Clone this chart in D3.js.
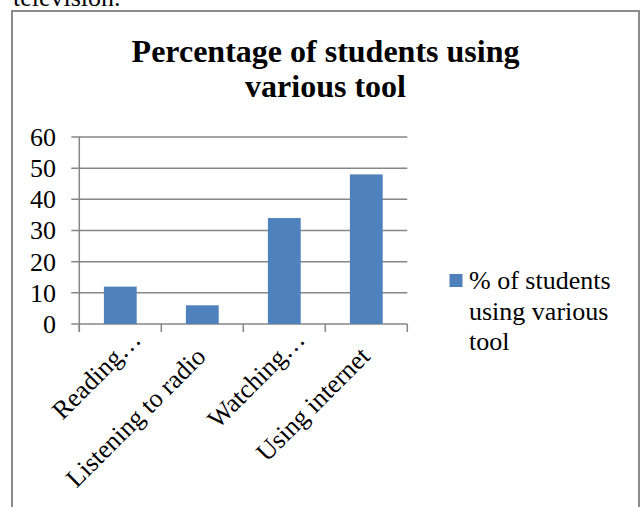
<!DOCTYPE html>
<html>
<head>
<meta charset="utf-8">
<script src="https://cdnjs.cloudflare.com/ajax/libs/d3/7.8.5/d3.min.js"></script>
<style>
  body { margin: 0; background: #fff; }
  svg { display: block; font-family: "Liberation Serif", "Times New Roman", serif; }
</style>
</head>
<body>
<svg id="chart" width="640" height="507"></svg>
<script>
// chart data
var categories = ["Reading\u2026", "Listening to radio", "Watching\u2026", "Using internet"];
var truncated = [true, false, true, false];
var values = [12, 6, 34, 48];
var yTicks = [0, 10, 20, 30, 40, 50, 60];
var titleLines = ["Percentage of students using", "various tool"];
var legendLines = ["% of students", "using various", "tool"];

var barColor = "#4F81BD";
var gridColor = "#868686";

var svg = d3.select("#chart");

// text from the page above the chart (cut at the top)
svg.append("text")
  .attr("x", 13)
  .attr("y", 6)
  .style("font-size", "26px")
  .text("television.");

// chart frame
svg.append("rect")
  .attr("x", 12)
  .attr("y", 11)
  .attr("width", 627)
  .attr("height", 520)
  .attr("fill", "#fff")
  .attr("stroke", "#8c8c8c")
  .attr("stroke-width", 2);

// title
svg.append("text")
  .attr("text-anchor", "middle")
  .style("font-size", "32px")
  .style("font-weight", "bold")
  .selectAll("tspan")
  .data(titleLines)
  .enter().append("tspan")
    .attr("x", 325.5)
    .attr("y", function (d, i) { return 62 + i * 35; })
    .text(function (d) { return d; });

/*
  SCALES
*/
var plot = { left: 79.3, right: 407.3, top: 137, bottom: 324 };

var x = d3.scaleBand()
  .domain(categories)
  .range([plot.left, plot.right])
  .padding(0);

var y = d3.scaleLinear()
  .domain([0, 60])
  .range([plot.bottom, plot.top]);

// gridlines + left tick marks
svg.append("g")
  .selectAll("line")
  .data(yTicks)
  .enter().append("line")
    .attr("x1", plot.left - 8)
    .attr("x2", plot.right)
    .attr("y1", function (d) { return y(d); })
    .attr("y2", function (d) { return y(d); })
    .attr("stroke", gridColor)
    .attr("stroke-width", 1.5);

// y tick labels
svg.append("g")
  .selectAll("text")
  .data(yTicks)
  .enter().append("text")
    .attr("x", 56)
    .attr("y", function (d) { return y(d); })
    .attr("dy", "0.34em")
    .attr("text-anchor", "end")
    .style("font-size", "26px")
    .text(function (d) { return d; });

// vertical axis line
svg.append("line")
  .attr("x1", plot.left).attr("x2", plot.left)
  .attr("y1", plot.top).attr("y2", plot.bottom + 8)
  .attr("stroke", gridColor)
  .attr("stroke-width", 1.5);

// category tick marks at band edges
var edges = categories.map(function (c) { return x(c); }).concat([plot.right]);
svg.append("g")
  .selectAll("line")
  .data(edges)
  .enter().append("line")
    .attr("x1", function (d) { return d; })
    .attr("x2", function (d) { return d; })
    .attr("y1", plot.bottom)
    .attr("y2", plot.bottom + 8)
    .attr("stroke", gridColor)
    .attr("stroke-width", 1.5);

// bars (gap width 150%)
var bw = x.bandwidth() * 0.4;
svg.append("g")
  .selectAll("rect")
  .data(values)
  .enter().append("rect")
    .attr("x", function (d, i) { return x(categories[i]) + (x.bandwidth() - bw) / 2; })
    .attr("y", function (d) { return y(d); })
    .attr("width", bw)
    .attr("height", function (d) { return y(0) - y(d); })
    .attr("fill", barColor);

// rotated category labels
svg.append("g")
  .selectAll("text")
  .data(categories)
  .enter().append("text")
    .attr("transform", function (d) {
      var cx = x(d) + x.bandwidth() / 2 + 5;
      return "translate(" + cx + "," + (plot.bottom + 34) + ") rotate(-45)";
    })
    .attr("dx", function (d, i) { return truncated[i] ? 24 : 0; })
    .attr("text-anchor", "end")
    .style("font-size", "26px")
    .text(function (d) { return d; });

// legend
svg.append("rect")
  .attr("x", 449.5)
  .attr("y", 274)
  .attr("width", 13)
  .attr("height", 13)
  .attr("fill", barColor);

svg.append("text")
  .style("font-size", "26px")
  .selectAll("tspan")
  .data(legendLines)
  .enter().append("tspan")
    .attr("x", 469)
    .attr("y", function (d, i) { return 289 + i * 30.5; })
    .text(function (d) { return d; });
</script>
</body>
</html>
